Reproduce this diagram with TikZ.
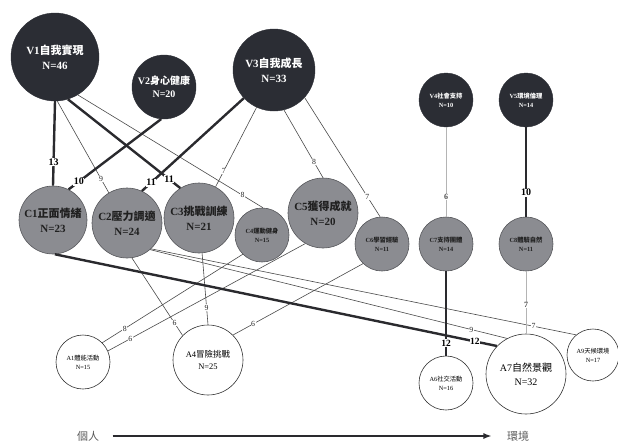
\documentclass[tikz,border=0pt]{standalone}
\usepackage{fontspec}
\setmainfont{Liberation Serif}
\newfontfamily\cjk{Noto Sans CJK TC}
\newcommand\zhtxt[1]{{\cjk #1}}
\usetikzlibrary{arrows.meta}
\definecolor{vfill}{HTML}{2B2D34}
\definecolor{cfill}{HTML}{8B8C91}
\definecolor{cedge}{HTML}{55565A}
\definecolor{ctext}{HTML}{202020}
\definecolor{edark}{HTML}{2A2A2E}
\definecolor{ethin}{HTML}{4A4A4A}
\definecolor{egrey}{HTML}{B4B4B4}
\tikzset{
  vnode/.style={circle, fill=vfill, draw=vfill, text=white, inner sep=0pt, align=center},
  cnode/.style={circle, fill=cfill, draw=cedge, line width=0.6pt, text=ctext, inner sep=0pt, align=center},
  anode/.style={circle, fill=white, draw=black!80, line width=0.6pt, text=black, inner sep=0pt, align=center},
  fbig/.style={font=\bfseries\fontsize{11}{15}\selectfont},
  fmid/.style={font=\bfseries\fontsize{10}{13}\selectfont},
  fsmall/.style={font=\bfseries\fontsize{6.3}{9}\selectfont},
  fsmalln/.style={font=\fontsize{6.3}{9}\selectfont},
  thickE/.style={line width=2.4pt, draw=edark},
  thinE/.style={line width=0.6pt, draw=ethin},
  greyE/.style={line width=1pt, draw=egrey},
  lbl/.style={fill=white, inner sep=0.6pt, text=black, font=\bfseries\fontsize{10}{10}\selectfont},
  mlbl/.style={fill=white, inner sep=0.6pt, text=black, font=\bfseries\fontsize{9.5}{10}\selectfont},
  slbl/.style={fill=white, inner sep=0.5pt, text=black!85, font=\fontsize{7.8}{8}\selectfont},
  glbl/.style={fill=white, inner sep=0.6pt, text=black!70, font=\bfseries\fontsize{8}{8}\selectfont},
  axislbl/.style={text=black!65, font=\fontsize{11}{12}\selectfont},
}
\begin{document}
\begin{tikzpicture}[x=1pt, y=-1pt]
\useasboundingbox (0,0) rectangle (618,445);

% V nodes
\node[vnode, fbig, minimum size=88pt] (V1) at (55,57) {V1\zhtxt{自我實現}\\N=46};
\node[vnode, fmid, minimum size=64pt] (V2) at (164,87) {V2\zhtxt{身心健康}\\N=20};
\node[vnode, fbig, minimum size=82pt] (V3) at (274,70) {V3\zhtxt{自我成長}\\N=33};
\node[vnode, fsmall, minimum size=54pt] (V4) at (446,100) {V4\zhtxt{社會支持}\\N=10};
\node[vnode, fsmall, minimum size=54pt] (V5) at (526,100) {V5\zhtxt{環境倫理}\\N=14};

% C nodes
\node[cnode, fbig, minimum size=68pt] (C1) at (53,220) {C1\zhtxt{正面情緒}\\N=23};
\node[cnode, fbig, minimum size=70pt] (C2) at (127,223) {C2\zhtxt{壓力調適}\\N=24};
\node[cnode, fbig, minimum size=70pt] (C3) at (199,218) {C3\zhtxt{挑戰訓練}\\N=21};
\node[cnode, fsmall, minimum size=54pt] (C4) at (262,235) {C4\zhtxt{運動健身}\\N=15};
\node[cnode, fbig, minimum size=70pt] (C5) at (323,213) {C5\zhtxt{獲得成就}\\N=20};
\node[cnode, fsmall, minimum size=54pt] (C6) at (382,244) {C6\zhtxt{學習經驗}\\N=11};
\node[cnode, fsmall, minimum size=54pt] (C7) at (446,244) {C7\zhtxt{支持團體}\\N=14};
\node[cnode, fsmall, minimum size=54pt] (C8) at (526,244) {C8\zhtxt{體驗自然}\\N=11};

% A nodes
\node[anode, fsmalln, minimum size=54pt] (A1) at (83,362) {A1\zhtxt{體能活動}\\N=15};
\node[anode, font=\fontsize{8.5}{12}\selectfont, minimum size=70pt] (A4) at (208,360) {A4\zhtxt{冒險挑戰}\\N=25};
\node[anode, fsmalln, minimum size=54pt] (A6) at (446,383) {A6\zhtxt{社交活動}\\N=16};
\node[anode, font=\fontsize{10}{14}\selectfont, minimum size=80pt] (A7) at (526,374) {A7\zhtxt{自然景觀}\\N=32};
\node[anode, fsmalln, minimum size=52pt] (A9) at (593,355) {A9\zhtxt{天候環境}\\N=17};

% V -> C edges
\draw[thickE] (V1.-90) -- (C1.90) node[lbl,pos=0.72]{13};
\draw[thinE] (V1.-87) -- (C2.121) node[slbl,pos=0.85]{9};
\draw[thickE] (V1.-73) -- (C3.122) node[lbl,pos=0.9]{11};
\draw[thinE] (V1.-59) -- (C4.88) node[slbl,pos=0.89]{8};
\draw[thickE] (V2.-95) -- (C1.63) node[lbl,pos=0.89]{10};
\draw[thickE] (V3.-137) -- (C2.65) node[lbl,pos=0.91]{11};
\draw[thinE] (V3.-115) -- (C3.62) node[slbl,pos=0.8]{7};
\draw[thinE] (V3.-76) -- (C5.90) node[slbl,pos=0.77]{8};
\draw[thinE] (V3.-42) -- (C6.94) node[slbl,pos=0.83]{7};
\draw[greyE] (V4.-90) -- (C7.90) node[glbl,pos=0.78]{6};
\draw[thickE] (V5.-90) -- (C8.90) node[lbl,pos=0.73]{10};

% C -> A edges
\draw[thinE] (C2.-82) -- (A4.136) node[slbl,pos=0.84]{6};
\draw[thinE] (C2.-47) -- (A9.130) node[slbl,pos=0.9]{7};
\draw[thinE] (C2.-49) -- (A7.118) node[slbl,pos=0.9]{9};
\draw[thinE] (C3.-85) -- (A4.90) node[slbl,pos=0.76]{9};
\draw[thinE] (C4.-135) -- (A1.45) node[slbl,pos=0.84]{8};
\draw[thinE] (C5.-120) -- (A1.24) node[slbl,pos=0.886]{6};
\draw[thinE] (C6.-134) -- (A4.45) node[slbl,pos=0.845]{6};
\draw[thickE] (C1.-87) -- (A7.136) node[mlbl,pos=0.95]{12};
\draw[thickE] (C7.-90) -- (A6.90) node[mlbl,pos=0.85]{12};
\draw[greyE] (C8.-90) -- (A7.90) node[glbl,pos=0.54]{7};

% axis
\node[axislbl] (ind) at (88,436) {\zhtxt{個人}};
\node[axislbl] (env) at (518,436) {\zhtxt{環境}};
\draw[line width=1.4pt, draw=edark, -{Latex[length=8pt,width=6pt]}, shorten <=10pt, shorten >=12pt] (ind.east) -- (env.west);
\end{tikzpicture}
\end{document}
